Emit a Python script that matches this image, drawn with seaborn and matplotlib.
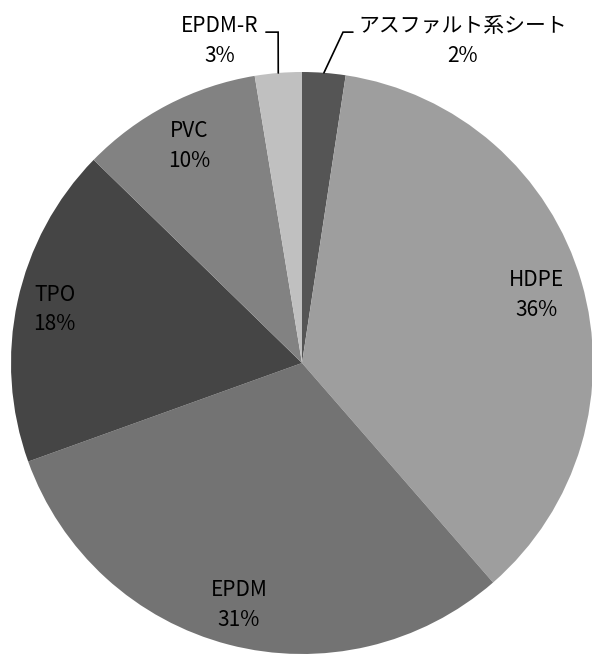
import numpy as np
import matplotlib
matplotlib.use('Agg')
import matplotlib.pyplot as plt
import seaborn as sns

# share of roofing membrane types (%), clockwise from 12 o'clock
materials = ['アスファルト系シート', 'HDPE', 'EPDM', 'TPO', 'PVC', 'EPDM-R']
shares = [2.4, 36.2, 30.9, 17.8, 10.1, 2.6]
colors = ['#555555', '#9e9e9e', '#737373', '#454545', '#828282', '#c0c0c0']

sns.set_theme(style='white')
plt.rcParams['font.family'] = ['Noto Sans CJK JP', 'DejaVu Sans']

fig = plt.figure(figsize=(5.92, 6.58), dpi=100)
ax = fig.add_axes([0, 0, 1, 1])

wedges, _ = ax.pie(shares, colors=colors, startangle=90, counterclock=False,
                   wedgeprops=dict(linewidth=0), radius=1.0)

# pie centre sits at (302, 363) px, radius 291 px
R = 291.0
cx, cy = 302.0, 363.0
ax.set_xlim(-cx / R, (592 - cx) / R)
ax.set_ylim(-(658 - cy) / R, cy / R)
ax.set_aspect('equal')
ax.axis('off')

labels = ['%s\n%d%%' % (m, round(s)) for m, s in zip(materials, shares)]
fs = 15

# big slices: label inside the wedge along its bisector
inner_dist = {'HDPE': 0.84, 'EPDM': 0.86, 'TPO': 0.87, 'PVC': 0.84}
for w, m, lab in zip(wedges, materials, labels):
    mid = np.deg2rad((w.theta1 + w.theta2) / 2)
    if m in inner_dist:
        d = inner_dist[m]
        ax.text(d * np.cos(mid), d * np.sin(mid), lab, ha='center', va='center',
                fontsize=fs, color='black', linespacing=1.45)

# small slices: outside label with an elbow leader line
outside = {
    'EPDM-R': dict(elbow=(-0.082, 1.137), end=(-0.124, 1.137), text=(-0.282, 1.107)),
    'アスファルト系シート': dict(elbow=(0.141, 1.137), end=(0.175, 1.137), text=(0.553, 1.107)),
}
for w, m, lab in zip(wedges, materials, labels):
    if m in outside:
        o = outside[m]
        mid = np.deg2rad((w.theta1 + w.theta2) / 2)
        p0 = (np.cos(mid), np.sin(mid))
        ax.plot([p0[0], o['elbow'][0], o['end'][0]],
                [p0[1], o['elbow'][1], o['end'][1]], color='black', lw=1.2,
                solid_joinstyle='miter')
        ax.text(o['text'][0], o['text'][1], lab, ha='center', va='center',
                fontsize=fs, color='black', linespacing=1.45)

fig.savefig('out.png', dpi=100, facecolor='white')
